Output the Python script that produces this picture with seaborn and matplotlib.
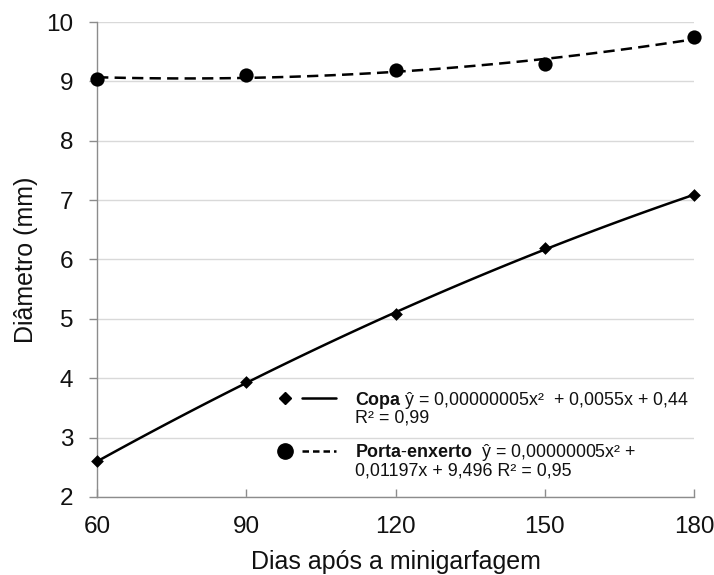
import numpy as np
import pandas as pd
import matplotlib
matplotlib.use("Agg")
import matplotlib.pyplot as plt
from matplotlib.lines import Line2D
from matplotlib.legend_handler import HandlerTuple
import seaborn as sns

# Days after mini-grafting and stem diameter (mm)
dias = [60, 90, 120, 150, 180]
copa = [2.60, 3.93, 5.08, 6.20, 7.08]
porta_enxerto = [9.04, 9.11, 9.19, 9.29, 9.75]

legend_first = [r"$\mathbf{Copa}$ ŷ = 0,00000005x²  + 0,0055x + 0,44",
                r"$\mathbf{Porta}$-$\mathbf{enxerto}$  ŷ = 0,00000005x² +"]
legend_second = ["R² = 0,99", "0,01197x + 9,496 R² = 0,95"]

x_ticks = [60, 90, 120, 150, 180]
y_ticks = [2, 3, 4, 5, 6, 7, 8, 9, 10]

df = pd.DataFrame({"dias": dias, "copa": copa, "porta": porta_enxerto})

sns.set_style("white")
plt.rcParams["font.family"] = ["Liberation Sans", "DejaVu Sans"]
plt.rcParams["mathtext.fontset"] = "custom"
plt.rcParams["mathtext.bf"] = "Liberation Sans:bold"
plt.rcParams["mathtext.rm"] = "Liberation Sans"

fig = plt.figure(figsize=(7.14, 5.75), dpi=100)
ax = fig.add_axes([0.136, 0.1357, 0.836, 0.826])

axis_grey = "#8c8c8c"
grid_grey = "#d9d9d9"
text_col = "#111111"

# quadratic trend curves
sns.regplot(data=df, x="dias", y="copa", order=2, ci=None, scatter=False,
            ax=ax, line_kws=dict(color="black", lw=1.8, zorder=3))
sns.regplot(data=df, x="dias", y="porta", order=2, ci=None, scatter=False,
            ax=ax, line_kws=dict(color="black", lw=1.8, dashes=(4.5, 2.5), zorder=3))

# observed means
sns.scatterplot(data=df, x="dias", y="copa", marker="D", s=42, color="black",
                edgecolor="black", linewidth=0, ax=ax, zorder=4, clip_on=False)
sns.scatterplot(data=df, x="dias", y="porta", marker="o", s=105, color="black",
                edgecolor="black", linewidth=0, ax=ax, zorder=4, clip_on=False)

ax.set_xlim(60, 180)
ax.set_ylim(2, 10)
ax.set_xticks(x_ticks)
ax.set_yticks(y_ticks)
ax.set_xticklabels([str(v) for v in x_ticks])
ax.set_yticklabels([str(v) for v in y_ticks])

ax.yaxis.grid(True, color=grid_grey, lw=1.0, zorder=0)
ax.xaxis.grid(False)
ax.set_axisbelow(True)

for side in ("top", "right"):
    ax.spines[side].set_visible(False)
for side in ("left", "bottom"):
    ax.spines[side].set_color(axis_grey)
    ax.spines[side].set_linewidth(1.0)

ax.tick_params(axis="y", direction="out", length=6, width=1, color=axis_grey,
               labelsize=17.5, pad=11, labelcolor=text_col, left=True)
ax.tick_params(axis="x", direction="in", length=6, width=1, color=axis_grey,
               labelsize=17.5, pad=14, labelcolor=text_col, bottom=True)

ax.set_xlabel("Dias após a minigarfagem", fontsize=18, color=text_col, labelpad=8)
ax.set_ylabel("Diâmetro (mm)", fontsize=18, color=text_col, labelpad=6)

# legend: marker first, then line sample, then equation
h_copa = (Line2D([], [], marker="D", ms=6.5, color="black", ls="none"),
          Line2D([], [], color="black", lw=1.8))
h_porta = (Line2D([], [], marker="o", ms=11, color="black", ls="none"),
           Line2D([], [], color="black", lw=1.8, dashes=(2.6, 1.6)))
leg = ax.legend([h_copa, h_porta], legend_first,
                handler_map={tuple: HandlerTuple(ndivide=None, pad=0)},
                loc="upper left", bbox_to_anchor=(0.286, 0.226),
                frameon=False, fontsize=12.85, handlelength=3.8,
                handletextpad=1.1, labelspacing=1.75, borderpad=0,
                borderaxespad=0)
for txt, second in zip(leg.get_texts(), legend_second):
    txt.set_color(text_col)
    ax.annotate(second, xy=(0, 0), xycoords=txt, xytext=(0, 0.5),
                textcoords="offset points", va="top", ha="left",
                fontsize=12.85, color=text_col, zorder=10)

fig.savefig("out.png", dpi=100)
